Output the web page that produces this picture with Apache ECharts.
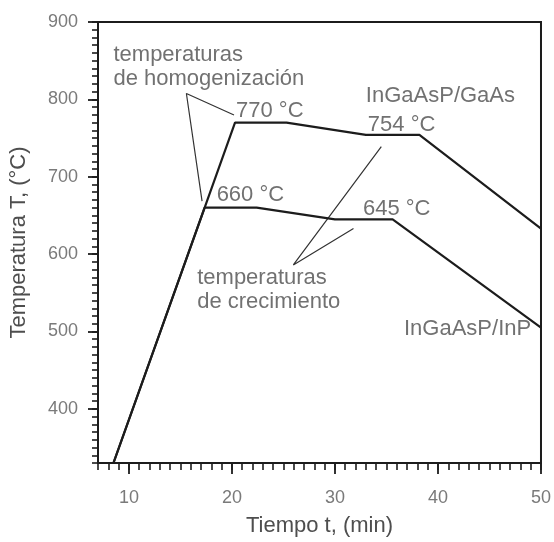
<!DOCTYPE html>
<html><head><meta charset="utf-8">
<script src="https://cdn.jsdelivr.net/npm/echarts@6.0.0/dist/echarts.min.js"></script>
<style>html,body{margin:0;padding:0;background:#fff}#chart{width:554px;height:542px}</style>
</head><body><div id="chart"></div>
<script>
// Heating profiles of the two heterostructures: time (min) vs temperature (°C)
const timeGaAs = [8.5, 20.3, 25.3, 33.0, 38.2, 50];
const tempGaAs = [330, 770, 770, 754, 754, 633];
const timeInP  = [8.5, 17.35, 22.4, 30.0, 35.6, 50];
const tempInP  = [330, 660, 660, 645, 645, 505];

// Labelled major ticks
const xTicks = [10, 20, 30, 40, 50];
const yTicks = [400, 500, 600, 700, 800, 900];

// Free-standing callout text (left edge / vertical centre, in data units)
const noteText = ['temperaturas', 'de homogenización', 'InGaAsP/GaAs',
                  'temperaturas', 'de crecimiento', 'InGaAsP/InP'];
const noteX = [8.5, 8.5, 33.0, 16.63, 16.63, 36.7];
const noteY = [858, 826.6, 803.8, 569.6, 538, 503.8];

// Leader lines, each drawn end -> vertex -> end
const homogLeader  = [[20.2, 779.7], [15.58, 807.6], [17.1, 668.4]];
const growthLeader = [[34.5, 739], [25.96, 586], [31.8, 633]];

// Plateau temperatures that get a value label: [series, point index, dx, dy]
const plateauLabels = [['GaAs', 1, 1, -12], ['GaAs', 3, 2, -10],
                       ['InP', 1, 12, -13], ['InP', 3, 28, -10]];

const FONT = 'Liberation Sans';
const INK = '#1c1c1c';
const TEXT = '#4e4e4e';
const TICK_TEXT = '#7a7a7a';
const profiles = {
  GaAs: timeGaAs.map((t, i) => [t, tempGaAs[i]]),
  InP: timeInP.map((t, i) => [t, tempInP[i]])
};

const chart = echarts.init(document.getElementById('chart'), null, { renderer: 'canvas' });

const X_MIN = 7, X_MAX = 50, Y_MIN = 330, Y_MAX = 900;

const option = {
  backgroundColor: '#ffffff',
  animation: false,
  grid: { left: 93, right: 13, top: 22, bottom: 69, show: true,
          borderColor: INK, borderWidth: 2, backgroundColor: 'transparent' },
  xAxis: [
    { // minor ticks every minute
      type: 'value', min: X_MIN, max: X_MAX, interval: 1, position: 'bottom',
      axisLine: { show: true, lineStyle: { color: INK, width: 2 } },
      axisTick: { show: true, length: 7, lineStyle: { color: INK, width: 1.6 } },
      axisLabel: { show: false }, splitLine: { show: false }
    },
    { // labelled major ticks
      type: 'value', min: X_MIN, max: X_MAX, position: 'bottom',
      axisLine: { show: false },
      axisTick: { show: true, length: 11, customValues: xTicks,
                  lineStyle: { color: INK, width: 1.8 } },
      axisLabel: { show: true, customValues: xTicks, margin: 26,
                   color: TICK_TEXT, fontFamily: FONT, fontSize: 18 },
      splitLine: { show: false },
      name: 'Tiempo t, (min)', nameLocation: 'middle', nameGap: 52,
      nameTextStyle: { color: TEXT, fontFamily: FONT, fontSize: 22 }
    }
  ],
  yAxis: [
    { // minor ticks every 10 °C
      type: 'value', min: Y_MIN, max: Y_MAX, interval: 10, position: 'left',
      axisLine: { show: true, lineStyle: { color: INK, width: 2 } },
      axisTick: { show: true, length: 6, lineStyle: { color: INK, width: 1.6 } },
      axisLabel: { show: false }, splitLine: { show: false }
    },
    { // labelled major ticks
      type: 'value', min: Y_MIN, max: Y_MAX, position: 'left',
      axisLine: { show: false },
      axisTick: { show: true, length: 10, customValues: yTicks,
                  lineStyle: { color: INK, width: 1.8 } },
      axisLabel: { show: true, customValues: yTicks, margin: 20,
                   color: TICK_TEXT, fontFamily: FONT, fontSize: 18 },
      splitLine: { show: false },
      name: 'Temperatura T, (°C)', nameLocation: 'middle', nameGap: 68,
      nameTextStyle: { color: TEXT, fontFamily: FONT, fontSize: 22 }
    }
  ],
  series: [
    { name: 'InGaAsP/GaAs', type: 'line', data: profiles.GaAs, symbol: 'none',
      lineStyle: { color: INK, width: 2.2 }, z: 3 },
    { name: 'InGaAsP/InP', type: 'line', data: profiles.InP, symbol: 'none',
      lineStyle: { color: INK, width: 2.2 }, z: 3 },
    { name: 'homog-leader', type: 'line', data: homogLeader, symbol: 'none',
      lineStyle: { color: '#333', width: 1.2 }, z: 2 },
    { name: 'growth-leader', type: 'line', data: growthLeader, symbol: 'none',
      lineStyle: { color: '#333', width: 1.2 }, z: 2 },
    { // callout text
      name: 'notes', type: 'scatter', symbolSize: 1,
      itemStyle: { color: 'transparent' },
      data: noteText.map((s, i) => ({ value: [noteX[i], noteY[i]], name: s })),
      label: { show: true, position: 'inside', align: 'left', verticalAlign: 'middle',
               formatter: p => p.name, color: TEXT, fontFamily: FONT, fontSize: 22 },
      z: 4
    },
    { // plateau temperature labels, taken from the profile points
      name: 'plateaus', type: 'scatter', symbolSize: 1,
      itemStyle: { color: 'transparent' },
      data: plateauLabels.map(([s, i, dx, dy]) => ({
        value: profiles[s][i],
        label: { offset: [dx, dy] }
      })),
      label: { show: true, position: 'inside', align: 'left', verticalAlign: 'middle',
               formatter: p => p.value[1] + ' °C', color: TEXT, fontFamily: FONT, fontSize: 22 },
      z: 4
    }
  ]
};

chart.setOption(option);
</script>
</body></html>
